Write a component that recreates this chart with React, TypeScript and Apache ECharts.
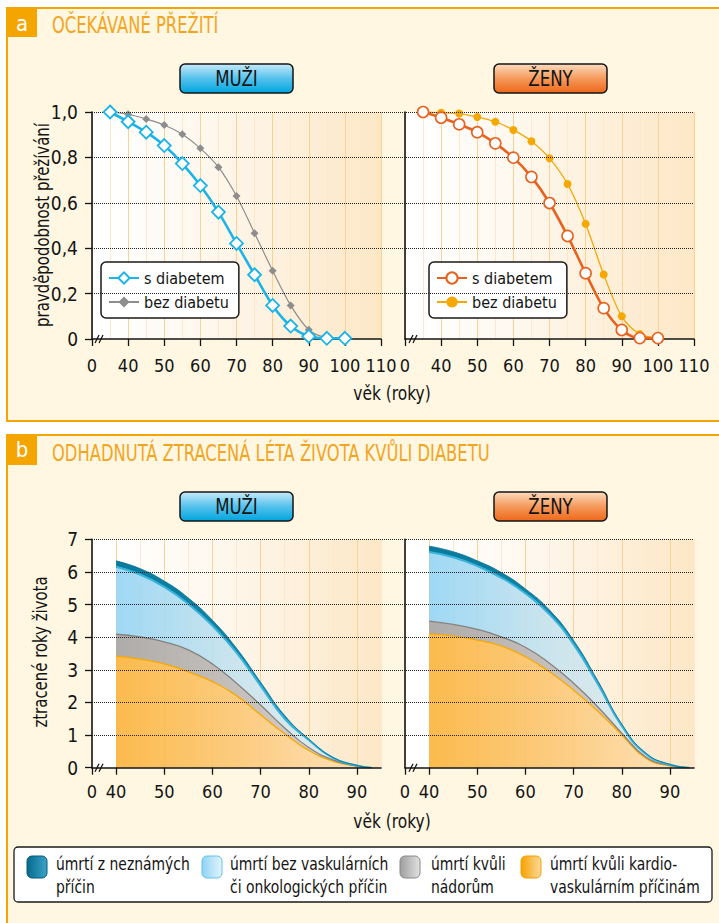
import React, { useEffect, useRef } from 'react';
import * as echarts from 'echarts';

const FONT = "'DejaVu Sans Condensed','Liberation Sans Narrow','Arial Narrow',sans-serif";
const ORANGE = '#f5a500';
const INK = '#141414';

// ---- panel a: survival probability ----
const survAges = [35, 40, 45, 50, 55, 60, 65, 70, 75, 80, 85, 90, 95, 100];
const muziSDiabetem = [1.0, 0.957, 0.911, 0.852, 0.773, 0.676, 0.559, 0.421, 0.283, 0.148, 0.057, 0.012, 0.003, 0.003];
const muziBezDiabetu = [1.0, 0.99, 0.969, 0.943, 0.902, 0.84, 0.757, 0.63, 0.466, 0.301, 0.148, 0.041, 0.006, 0.002];
const zenySDiabetem = [1.0, 0.975, 0.946, 0.911, 0.862, 0.799, 0.714, 0.599, 0.454, 0.29, 0.136, 0.04, 0.004, 0.004];
const zenyBezDiabetu = [1.0, 0.997, 0.993, 0.978, 0.957, 0.921, 0.871, 0.796, 0.683, 0.507, 0.284, 0.1, 0.022, 0.004];

// ---- panel b: lost years of life (layer thickness, stacked bottom->top) ----
const lostAgesMuzi = [40, 45, 50, 55, 60, 65, 70, 75, 80, 85, 90, 93];
const muziCardio = [3.42, 3.33, 3.18, 2.94, 2.64, 2.21, 1.62, 1.04, 0.53, 0.2, 0.04, 0];
const muziTumor = [0.67, 0.68, 0.68, 0.67, 0.54, 0.38, 0.3, 0.18, 0.09, 0.04, 0.01, 0];
const muziOther = [2.07, 1.91, 1.68, 1.41, 1.17, 0.94, 0.59, 0.28, 0.23, 0.06, 0.015, 0];
const muziUnknown = [0.18, 0.18, 0.18, 0.18, 0.17, 0.13, 0.11, 0.1, 0.03, 0.02, 0.005, 0];

const lostAgesZeny = [40, 45, 50, 55, 60, 65, 70, 75, 80, 85, 90, 94];
const zenyCardio = [4.1, 4.04, 3.91, 3.73, 3.4, 2.94, 2.38, 1.74, 1.01, 0.29, 0.06, 0];
const zenyTumor = [0.39, 0.35, 0.33, 0.28, 0.29, 0.26, 0.21, 0.13, 0.05, 0.04, 0.01, 0];
const zenyOther = [2.12, 2.06, 1.94, 1.81, 1.65, 1.5, 1.19, 0.7, 0.22, 0.09, 0.02, 0];
const zenyUnknown = [0.18, 0.17, 0.16, 0.16, 0.14, 0.13, 0.12, 0.1, 0.06, 0.03, 0.01, 0];

const bTickValues = [35, 40, 50, 60, 70, 80, 90];
const legendBItems = [
  ['úmrtí z neznámých', 'příčin'],
  ['úmrtí bez vaskulárních', 'či onkologických příčin'],
  ['úmrtí kvůli', 'nádorům'],
  ['úmrtí kvůli kardio-', 'vaskulárním příčinám'],
];

const C10 = '#fbd195';
const C5 = '#fde8cc';

const pairs = (xs: number[], ys: number[]) => xs.map((x, i) => [x, ys[i]]);
// value first so that ECharts stacks the y values (encode maps it back to y)
const pairsYX = (xs: number[], ys: number[]) => xs.map((x, i) => [ys[i], x]);
const hGrad = (stops: [number, string][]) =>
  new echarts.graphic.LinearGradient(0, 0, 1, 0, stops.map(([offset, color]) => ({ offset, color })));
const vGrad = (stops: [number, string][]) =>
  new echarts.graphic.LinearGradient(0, 0, 0, 1, stops.map(([offset, color]) => ({ offset, color })));

const labelStyle = { fontSize: 18, fontFamily: FONT, color: INK };

function mainX(gridIndex: number, b: boolean) {
  const base: any = {
    gridIndex,
    type: 'value',
    min: b ? 35 : 30,
    max: b ? 95 : 110,
    interval: b ? 5 : 10,
    z: 3,
    axisLine: { show: true, lineStyle: { color: INK, width: 1.6 } },
    axisTick: { show: true, length: 7, lineStyle: { color: INK, width: 1.3 } },
    axisLabel: {
      ...labelStyle,
      margin: b ? 15 : 17,
      formatter: (v: number) => (v === (b ? 35 : 30) ? '0' : String(v)),
    },
    splitLine: { show: false },
  };
  if (b) {
    base.axisTick.customValues = bTickValues;
    base.axisLabel.customValues = bTickValues;
  }
  return base;
}
function splitX(gridIndex: number, b: boolean) {
  return {
    gridIndex,
    type: 'value',
    min: b ? 35 : 30,
    max: b ? 95 : 110,
    interval: 5,
    axisLine: { show: false },
    axisTick: { show: false },
    axisLabel: { show: false },
    splitLine: { show: true, lineStyle: { color: b ? [C5, C10] : [C10, C5], width: 1 } },
  };
}
function yAx(gridIndex: number, b: boolean, left: boolean) {
  return {
    gridIndex,
    type: 'value',
    min: 0,
    max: b ? 7 : 1,
    interval: b ? 1 : 0.2,
    z: 3,
    axisLine: { show: true, lineStyle: { color: INK, width: 1.6 } },
    axisTick: { show: left, length: 7, lineStyle: { color: INK, width: 1.3 } },
    axisLabel: {
      show: left,
      ...labelStyle,
      fontSize: 19,
      margin: 14,
      formatter: (v: number) => (b ? String(v) : v === 0 ? '0' : v.toFixed(1).replace('.', ',')),
    },
    splitLine: { show: false },
  };
}
function wideY(gridIndex: number, b: boolean) {
  return {
    gridIndex,
    type: 'value',
    min: 0,
    max: b ? 7 : 1,
    interval: b ? 1 : 0.2,
    z: 4,
    axisLine: { show: false },
    axisTick: { show: false },
    axisLabel: { show: false },
    splitLine: { show: true, showMinLine: false, lineStyle: { type: 'dotted', color: '#222', width: 1 } },
  };
}

function areaSeries(prefix: string, xAxisIndex: number, yAxisIndex: number, ages: number[], cardio: number[], tumor: number[], other: number[], unknown: number[]) {
  const common = {
    type: 'line', xAxisIndex, yAxisIndex, stack: prefix, smooth: 0.5, symbol: 'none', z: 2,
    encode: { x: 1, y: 0 },
  };
  return [
    {
      ...common,
      name: prefix + ':kardio',
      data: pairsYX(ages, cardio),
      lineStyle: { color: '#f6a800', width: 1.3 },
      areaStyle: { opacity: 0.9, color: hGrad([[0, '#fbb33a'], [0.5, '#fcc877'], [1, '#fde3bd']]) },
    },
    {
      ...common,
      name: prefix + ':nador',
      data: pairsYX(ages, tumor),
      lineStyle: { color: '#858180', width: 1.3 },
      areaStyle: { opacity: 0.9, color: hGrad([[0, '#a5a3a1'], [0.6, '#c6c0bc'], [1, '#dcd6d0']]) },
    },
    {
      ...common,
      name: prefix + ':jine',
      data: pairsYX(ages, other),
      lineStyle: { color: '#3ab3da', width: 2 },
      areaStyle: { opacity: 0.88, color: hGrad([[0, '#92d3f3'], [0.5, '#c7e3ee'], [1, '#e6efed']]) },
    },
    {
      ...common,
      name: prefix + ':nezname',
      data: pairsYX(ages, unknown),
      lineStyle: { color: '#006f92', width: 0.8 },
      areaStyle: { opacity: 1, color: hGrad([[0, '#077a9d'], [1, '#1a8fb3']]) },
    },
  ];
}

function buildOption() {
  const gridBg = (b: boolean) =>
    hGrad(b ? [[0, '#ffffff'], [0.085, '#ffffff'], [0.5, '#fef6ea'], [1, '#fde7c6']] : [[0, '#ffffff'], [0.06, '#ffffff'], [0.5, '#fef5e7'], [1, '#fde7c6']]);
  const grid = [
    { left: 92, top: 112, width: 289, height: 227, show: true, backgroundColor: gridBg(false), borderWidth: 0 },
    { left: 405, top: 112, width: 289, height: 227, show: true, backgroundColor: gridBg(false), borderWidth: 0 },
    { left: 92, top: 539.3, width: 289, height: 228.4, show: true, backgroundColor: gridBg(true), borderWidth: 0 },
    { left: 405, top: 539.3, width: 289, height: 228.4, show: true, backgroundColor: gridBg(true), borderWidth: 0 },
    { left: 92, top: 112, width: 602, height: 227 },
    { left: 92, top: 539.3, width: 602, height: 228.4 },
  ];
  const xAxis = [
    mainX(0, false), splitX(0, false),
    mainX(1, false), splitX(1, false),
    mainX(2, true), splitX(2, true),
    mainX(3, true), splitX(3, true),
    { gridIndex: 4, type: 'value', min: 0, max: 1, show: false },
    { gridIndex: 5, type: 'value', min: 0, max: 1, show: false },
  ];
  const yAxis = [yAx(0, false, true), yAx(1, false, false), yAx(2, true, true), yAx(3, true, false), wideY(4, false), wideY(5, true)];

  const series: any[] = [
    {
      name: 'M:bez diabetu', type: 'line', xAxisIndex: 0, yAxisIndex: 0, smooth: 0.3,
      data: pairs(survAges, muziBezDiabetu), symbol: 'diamond', symbolSize: 8,
      lineStyle: { color: '#8d8d8d', width: 1.2 }, itemStyle: { color: '#8d8d8d' }, z: 3,
    },
    {
      name: 'M:s diabetem', type: 'line', xAxisIndex: 0, yAxisIndex: 0, smooth: 0.3,
      data: pairs(survAges, muziSDiabetem), symbol: 'diamond', symbolSize: 13,
      lineStyle: { color: '#1ab4e8', width: 2.6 }, itemStyle: { color: '#ffffff', borderColor: '#1ab4e8', borderWidth: 1.8 }, z: 4,
    },
    {
      name: 'Z:bez diabetu', type: 'line', xAxisIndex: 2, yAxisIndex: 1, smooth: 0.3,
      data: pairs(survAges, zenyBezDiabetu), symbol: 'circle', symbolSize: 8,
      lineStyle: { color: '#f5a800', width: 1.3 }, itemStyle: { color: '#f5a800' }, z: 3,
    },
    {
      name: 'Z:s diabetem', type: 'line', xAxisIndex: 2, yAxisIndex: 1, smooth: 0.3,
      data: pairs(survAges, zenySDiabetem), symbol: 'circle', symbolSize: 11,
      lineStyle: { color: '#e8621e', width: 2.6 }, itemStyle: { color: '#ffffff', borderColor: '#e8621e', borderWidth: 1.6 }, z: 4,
    },
    ...areaSeries('MB', 4, 2, lostAgesMuzi, muziCardio, muziTumor, muziOther, muziUnknown),
    ...areaSeries('ZB', 6, 3, lostAgesZeny, zenyCardio, zenyTumor, zenyOther, zenyUnknown),
  ];

  const legendCommon = {
    orient: 'vertical',
    backgroundColor: '#ffffff',
    borderColor: '#1a1a1a',
    borderWidth: 1.5,
    borderRadius: 5,
    padding: [7, 10, 7, 7],
    itemGap: 6,
    itemWidth: 30,
    itemHeight: 14,
    selectedMode: false,
    textStyle: { fontSize: 16, fontFamily: FONT, color: INK, lineHeight: 18 },
    formatter: (n: string) => n.split(':')[1],
  };
  const legend = [
    { ...legendCommon, left: 101, top: 262, data: ['M:s diabetem', 'M:bez diabetu'] },
    { ...legendCommon, left: 429, top: 262, data: ['Z:s diabetem', 'Z:bez diabetu'] },
  ];

  const txt = (x: number, y: number, text: string, size: number, fill: string, align = 'left', extra: any = {}) => ({
    type: 'text', x, y, ...extra,
    style: { text, fill, fontSize: size, fontFamily: FONT, align, verticalAlign: 'middle', textAlign: align, textVerticalAlign: 'middle' },
  });
  const brk = (x: number, y: number) => [
    { type: 'line', shape: { x1: x, y1: y + 4, x2: x + 4, y2: y - 4 }, style: { stroke: INK, lineWidth: 1.2 }, z: 10 },
    { type: 'line', shape: { x1: x + 4, y1: y + 4, x2: x + 8, y2: y - 4 }, style: { stroke: INK, lineWidth: 1.2 }, z: 10 },
  ];
  const button = (x: number, y: number, label: string, male: boolean) => [
    {
      type: 'rect', shape: { x, y, width: 113, height: 29, r: 5 },
      style: { fill: male ? vGrad([[0, '#c8eafa'], [0.5, '#55c2ec'], [1, '#00a5df']]) : vGrad([[0, '#fcdcc0'], [0.5, '#f59a5c'], [1, '#ee6719']]), stroke: INK, lineWidth: 1.5 },
    },
    txt(x + 56.5, y + 15, label, 21, INK, 'center', { scaleX: 0.88 }),
  ];
  const vName = (x: number, y: number, text: string) => ({
    type: 'text', x, y, rotation: Math.PI / 2, scaleX: 0.83,
    style: { text, fill: INK, fontSize: 20, fontFamily: FONT, align: 'center', verticalAlign: 'middle', textAlign: 'center', textVerticalAlign: 'middle' },
  });

  const graphic: any[] = [
    { type: 'rect', shape: { x: 7, y: 8, width: 30, height: 29 }, style: { fill: ORANGE } },
    txt(22, 23, 'a', 22, '#ffffff', 'center'),
    txt(52, 25, 'OČEKÁVANÉ PŘEŽITÍ', 23, '#f3a51e', 'left', { scaleX: 0.79 }),
    { type: 'rect', shape: { x: 7, y: 435, width: 30, height: 30 }, style: { fill: ORANGE } },
    txt(22, 449, 'b', 22, '#ffffff', 'center'),
    txt(52, 453, 'ODHADNUTÁ ZTRACENÁ LÉTA ŽIVOTA KVŮLI DIABETU', 23, '#f3a51e', 'left', { scaleX: 0.79 }),
    ...button(180, 64, 'MUŽI', true),
    ...button(494, 64, 'ŽENY', false),
    ...button(180, 492, 'MUŽI', true),
    ...button(494, 492, 'ŽENY', false),
    vName(42, 225, 'pravděpodobnost přežívání'),
    vName(40, 652, 'ztracené roky života'),
    txt(392, 393, 'věk (roky)', 20, INK, 'center', { scaleX: 0.86 }),
    txt(392, 821, 'věk (roky)', 20, INK, 'center', { scaleX: 0.86 }),
    ...brk(95, 339),
    ...brk(409, 339),
    ...brk(95, 767.7),
    ...brk(409, 767.7),
    { type: 'rect', shape: { x: 14, y: 847, width: 698, height: 55, r: 4 }, style: { fill: '#ffffff', stroke: '#1a1a1a', lineWidth: 1.3 } },
  ];
  const swatchX = [27, 202, 400, 521];
  const textX = [56, 230, 431, 550];
  const swatchFill = [
    hGrad([[0, '#066a8c'], [1, '#3aa3c8']]),
    hGrad([[0, '#8fd3f5'], [1, '#e4f4fc']]),
    hGrad([[0, '#9e9e9e'], [1, '#e2e2e2']]),
    hGrad([[0, '#f6a200'], [1, '#fdd99c']]),
  ];
  const swatchStroke = ['#055a78', '#62c2ec', '#8a8a8a', '#f0a000'];
  legendBItems.forEach((lines, i) => {
    graphic.push({
      type: 'rect', shape: { x: swatchX[i], y: 856, width: 20, height: 22, r: 5 },
      style: { fill: swatchFill[i], stroke: swatchStroke[i], lineWidth: 1 },
    });
    graphic.push(txt(textX[i], 864, lines[0], 18, INK, 'left', { scaleX: 0.86 }));
    graphic.push(txt(textX[i], 887, lines[1], 18, INK, 'left', { scaleX: 0.86 }));
  });

  return {
    animation: false,
    backgroundColor: 'transparent',
    textStyle: { fontFamily: FONT },
    grid,
    xAxis,
    yAxis,
    series,
    legend,
    graphic,
  };
}

export default function App() {
  const ref = useRef<HTMLDivElement>(null);
  useEffect(() => {
    if (!ref.current) return;
    const chart = echarts.init(ref.current, undefined, { renderer: 'svg' });
    chart.setOption(buildOption() as any);
    return () => chart.dispose();
  }, []);
  const panel = (top: number, height: number): React.CSSProperties => ({
    position: 'absolute', left: 6, top, width: 730, height,
    background: '#fff7e1', border: `2px solid ${ORANGE}`, boxSizing: 'border-box',
  });
  return (
    <div style={{ position: 'fixed', left: 0, top: 0, width: 719, height: 923, overflow: 'hidden', background: '#ffffff' }}>
      <div style={panel(7, 415)} />
      <div style={panel(434, 520)} />
      <div ref={ref} style={{ position: 'absolute', left: 0, top: 0, width: 719, height: 923 }} />
    </div>
  );
}
